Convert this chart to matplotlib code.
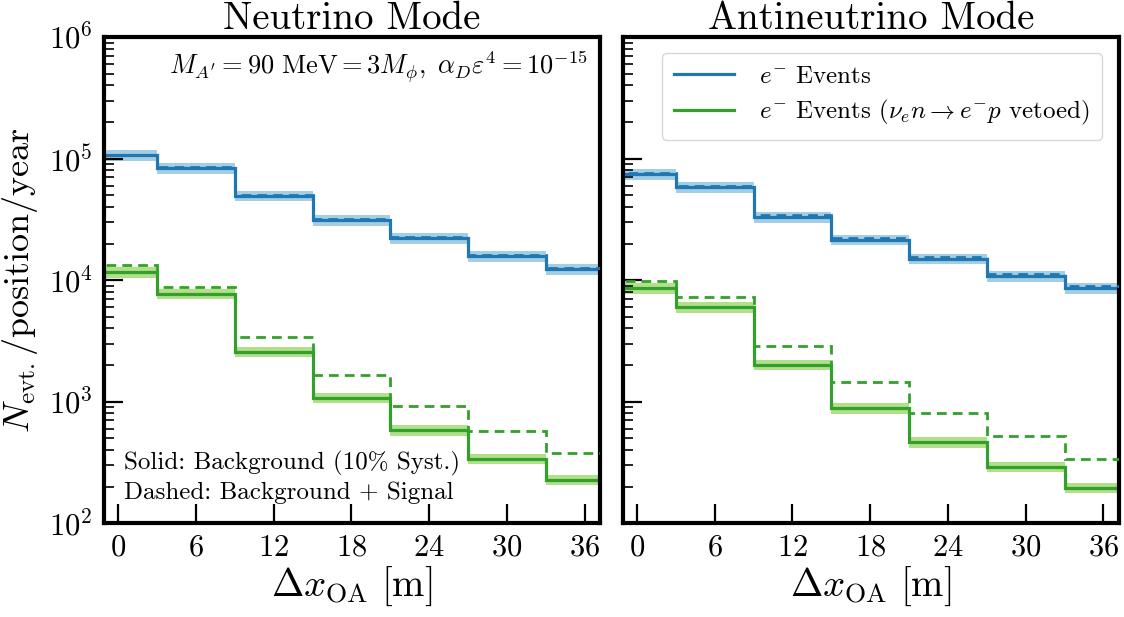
import numpy as np
import matplotlib
matplotlib.use("Agg")
from matplotlib import pyplot as plt
from matplotlib.ticker import LogLocator, NullFormatter

plt.rcParams['font.family'] = 'serif'
plt.rcParams['font.serif'] = ['cmr10']
plt.rcParams['mathtext.fontset'] = 'cm'
plt.rcParams['axes.unicode_minus'] = False
plt.rcParams['axes.formatter.use_mathtext'] = True

# off-axis positions (bin centres, m)
positions = [0, 6, 12, 18, 24, 30, 36]

# neutrino mode
nu_e_bkg = [1.06e5, 8.3e4, 4.95e4, 3.1e4, 2.2e4, 1.57e4, 1.23e4]
nu_e_sig = [1.08e5, 8.45e4, 5.05e4, 3.17e4, 2.25e4, 1.6e4, 1.25e4]
nu_veto_bkg = [1.16e4, 7.7e3, 2.57e3, 1.08e3, 580, 340, 228]
nu_veto_sig = [1.33e4, 8.8e3, 3.4e3, 1.65e3, 920, 570, 375]

# antineutrino mode
anu_e_bkg = [7.4e4, 5.8e4, 3.3e4, 2.15e4, 1.5e4, 1.08e4, 8.6e3]
anu_e_sig = [7.6e4, 5.95e4, 3.42e4, 2.22e4, 1.55e4, 1.12e4, 8.9e3]
anu_veto_bkg = [8.6e3, 6.0e3, 2.02e3, 880, 465, 292, 196]
anu_veto_sig = [9.8e3, 7.3e3, 2.85e3, 1.45e3, 810, 525, 340]

syst = 0.10

blue, blue_l = '#1f78b4', '#a6cee3'
green, green_l = '#33a02c', '#b2df8a'

pos = np.array(positions, dtype=float)
edges = np.append(pos - 3, pos[-1] + 3)

fig = plt.figure(figsize=(11.24, 6.17), dpi=100)
ax1 = fig.add_axes([0.0925, 0.152, 0.4415, 0.788])
ax2 = fig.add_axes([0.554, 0.152, 0.4415, 0.788], sharey=ax1)

def draw(ax, e_bkg, e_sig, v_bkg, v_sig):
    for bkg, sig, c, cl in [(e_bkg, e_sig, blue, blue_l), (v_bkg, v_sig, green, green_l)]:
        bkg = np.array(bkg)
        ax.stairs(bkg * (1 + syst), edges, baseline=bkg * (1 - syst), fill=True,
                  color=cl, lw=0, zorder=1)
        ax.stairs(bkg, edges, color=c, lw=2.3, zorder=2)
        ax.stairs(sig, edges, color=c, lw=2.0, ls=(0, (3.5, 2.2)), zorder=3)

draw(ax1, nu_e_bkg, nu_e_sig, nu_veto_bkg, nu_veto_sig)
draw(ax2, anu_e_bkg, anu_e_sig, anu_veto_bkg, anu_veto_sig)

for ax in [ax1, ax2]:
    ax.set_yscale('log')
    ax.set_ylim(1e2, 1e6)
    ax.set_xlim(-1.1, 37.2)
    ax.set_xticks(positions)
    ax.yaxis.set_minor_locator(LogLocator(base=10, subs=np.arange(2, 10), numticks=20))
    ax.yaxis.set_minor_formatter(NullFormatter())
    ax.tick_params(which='major', direction='in', length=14, width=1.6, labelsize=22, pad=8)
    ax.tick_params(which='minor', direction='in', length=7, width=1.2)
    ax.tick_params(axis='x', which='minor', bottom=False)
    for s in ax.spines.values():
        s.set_linewidth(3)
    ax.set_xlabel(r'$\Delta x_{\rm OA}\ [{\rm m}]$', fontsize=28, labelpad=2)

ax2.tick_params(axis='y', labelleft=False)

ax1.set_title('Neutrino Mode', fontsize=28, pad=6)
ax2.set_title('Antineutrino Mode', fontsize=28, pad=6)
ax1.set_ylabel(r'$N_{\rm evt.}/{\rm position}/{\rm year}$', fontsize=26, labelpad=6)

ax1.text(0.975, 0.975, r"$M_{A'}=90\ {\rm MeV}=3M_{\phi},\ \alpha_D\varepsilon^4=10^{-15}$",
         transform=ax1.transAxes, ha='right', va='top', fontsize=19)
ax1.text(0.04, 0.04, 'Solid: Background (10% Syst.)\nDashed: Background + Signal',
         transform=ax1.transAxes, ha='left', va='bottom', fontsize=18, linespacing=1.3)

ax2.plot([], [], color=blue, lw=2.3, label=r'$e^{-}$ Events')
ax2.plot([], [], color=green, lw=2.3, label=r'$e^{-}$ Events ($\nu_e n\rightarrow e^{-}p$ vetoed)')
ax2.legend(loc='upper right', fontsize=18, handlelength=2.4, handletextpad=1.0,
           borderpad=0.5, labelspacing=0.4, borderaxespad=0,
           bbox_to_anchor=(0.966, 0.967))

fig.savefig('out.png', dpi=100)
